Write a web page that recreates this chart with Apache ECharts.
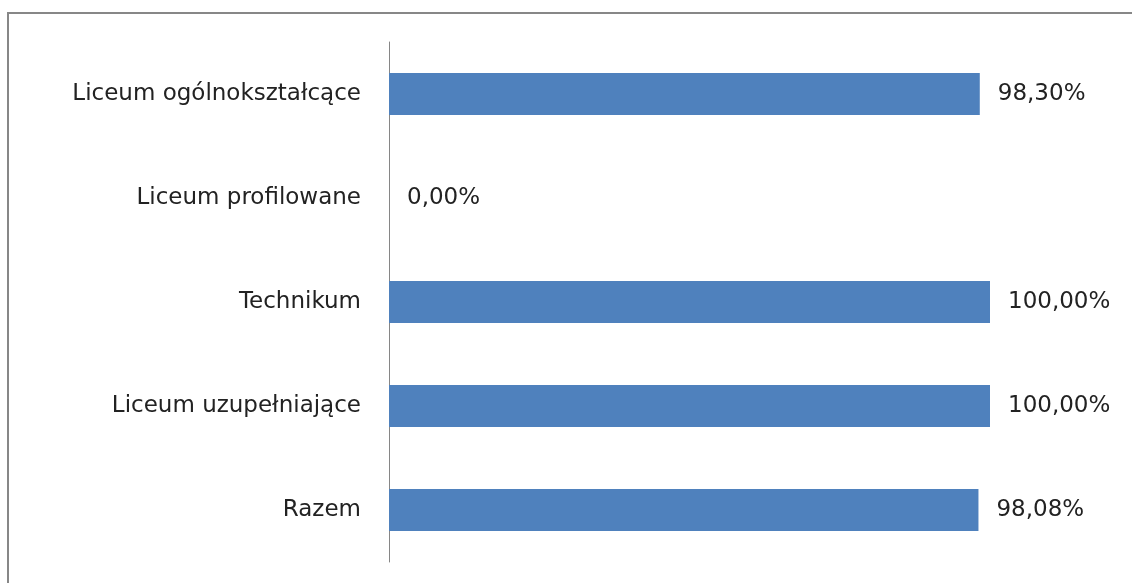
<!DOCTYPE html>
<html>
<head>
<meta charset="utf-8">
<script src="https://cdn.jsdelivr.net/npm/echarts@6/dist/echarts.min.js"></script>
<style>
  html, body { margin: 0; padding: 0; background: #fff; }
  #chart { width: 1132px; height: 583px; }
</style>
</head>
<body>
<div id="chart"></div>
<script>
const categories = [
  'Liceum ogólnokształcące',
  'Liceum profilowane',
  'Technikum',
  'Liceum uzupełniające',
  'Razem'
];
const percentValues = [98.30, 0.00, 100.00, 100.00, 98.08];

const chart = echarts.init(document.getElementById('chart'));
chart.setOption({
  animation: false,
  textStyle: { fontFamily: 'DejaVu Sans' },
  // ramka wykresu (jak w Excelu)
  graphic: [{
    type: 'rect',
    shape: { x: 8, y: 13, width: 1200, height: 700 },
    style: { fill: 'none', stroke: '#878787', lineWidth: 2 }
  }],
  grid: {
    left: 389,
    right: 142,
    top: 42,
    bottom: 21
  },
  xAxis: {
    type: 'value',
    min: 0,
    max: 100,
    show: false
  },
  yAxis: {
    type: 'category',
    inverse: true,
    data: categories,
    axisLine: { lineStyle: { color: '#868686', width: 1 } },
    axisTick: { show: false },
    axisLabel: {
      margin: 28,
      color: '#222',
      fontSize: 23
    }
  },
  series: [{
    type: 'bar',
    data: percentValues,
    barWidth: 42,
    itemStyle: { color: '#4F81BD' },
    label: {
      show: true,
      position: 'right',
      distance: 18,
      color: '#222',
      fontSize: 23,
      formatter: p => p.value.toFixed(2).replace('.', ',') + '%'
    }
  }]
});
</script>
</body>
</html>
